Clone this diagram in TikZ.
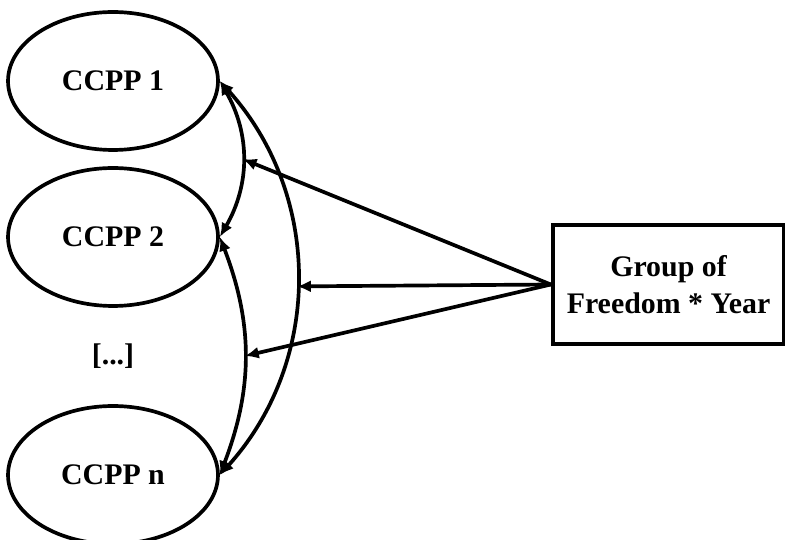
\documentclass[tikz,border=0pt]{standalone}
\usepackage{fontspec}
\setmainfont{Liberation Serif}
\usetikzlibrary{arrows.meta,shapes.geometric}
\begin{document}
\begin{tikzpicture}[x=0.02cm, y=-0.02cm, font=\bfseries\fontsize{17}{21}\selectfont, line width=2.1pt,
        ccpp/.style={draw, ellipse, minimum width=4.2cm, minimum height=2.76cm},
        link/.style={{Latex[length=2.8mm, width=2.4mm]}-{Latex[length=2.8mm, width=2.4mm]}}]
        \useasboundingbox (0,0) rectangle (785,540);
        \foreach \name/\y/\lab in {c1/81/1, c2/237/2, cn/475/n}{
            \node[ccpp] (\name) at (113,\y) {CCPP \lab};
        }
        \node (dots) at (113,356) {[...]};
        \node[draw, line width=2.5pt, minimum width=4.62cm, minimum height=2.38cm, align=center] 
            (group) at (668.5,284.5) {Group of\\Freedom * Year};
        % correlations between the CCPP
        \draw[link] (c1.east) to[bend left=30] coordinate[pos=.5] (m12) (c2.east);
        \draw[link] (c2.east) to[bend left=21] coordinate[pos=.5] (m2n) (cn.east);
        \draw[link] (c1.east) to[bend left=42] coordinate[pos=.52] (m1n) (cn.east);
        \foreach \m in {m12, m1n, m2n}
            \draw[-{Latex[length=2.8mm, width=2.4mm]}] (group.west) -- (\m);
\end{tikzpicture}
\end{document}
